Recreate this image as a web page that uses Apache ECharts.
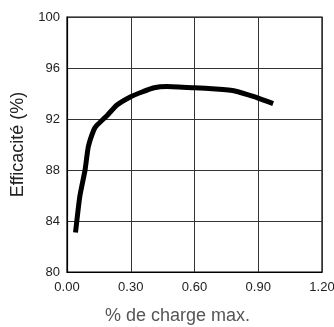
<!DOCTYPE html>
<html>
<head>
<meta charset="utf-8">
<script src="https://cdn.jsdelivr.net/npm/echarts@6/dist/echarts.min.js"></script>
<style>
  html, body { margin: 0; padding: 0; background: #fff; }
  #chart { width: 334px; height: 327px; }
</style>
</head>
<body>
<div id="chart"></div>
<script>
// Efficiency curve versus load fraction
const loadFraction = [0.04, 0.06, 0.085, 0.10, 0.125, 0.14, 0.19, 0.235, 0.30, 0.35, 0.41, 0.47, 0.60, 0.70, 0.79, 0.88, 0.97];
const efficiency   = [83.1, 85.9, 88.0, 89.8, 91.1, 91.5, 92.3, 93.1, 93.75, 94.1, 94.45, 94.55, 94.45, 94.35, 94.2, 93.75, 93.2];

const xTicks = [0, 0.3, 0.6, 0.9, 1.2];
const yTicks = [80, 84, 88, 92, 96, 100];

const FONT = '"Liberation Sans", Arial, Helvetica, sans-serif';

const chart = echarts.init(document.getElementById('chart'), null, { renderer: 'canvas' });

chart.setOption({
  animation: false,
  backgroundColor: '#fff',
  grid: {
    left: 67, top: 17, right: 12, bottom: 55,
    containLabel: false,
    outerBoundsMode: 'none',
    show: true, borderColor: '#000', borderWidth: 1.2, backgroundColor: 'transparent'
  },
  xAxis: {
    type: 'value',
    min: xTicks[0], max: xTicks[xTicks.length - 1], interval: 0.3,
    axisLine: { show: true, lineStyle: { color: '#000', width: 1.2 } },
    axisTick: { show: false },
    splitLine: { show: true, lineStyle: { color: '#333', width: 1 } },
    axisLabel: {
      color: '#222', fontFamily: FONT, fontSize: 13, margin: 9,
      formatter: v => v.toFixed(2)
    }
  },
  yAxis: {
    type: 'value',
    min: yTicks[0], max: yTicks[yTicks.length - 1], interval: 4,
    axisLine: { show: true, lineStyle: { color: '#000', width: 1.2 } },
    axisTick: { show: false },
    splitLine: { show: true, lineStyle: { color: '#333', width: 1 } },
    axisLabel: { color: '#222', fontFamily: FONT, fontSize: 13, margin: 7 },
    name: 'Efficacité (%)',
    nameLocation: 'middle',
    nameGap: 33,
    nameTextStyle: { color: '#222', fontFamily: FONT, fontSize: 18 }
  },
  graphic: [{
    type: 'text',
    left: 105, top: 307,
    style: { text: '% de charge max.', fill: '#555', font: '18px ' + FONT }
  }],
  series: [{
    type: 'line',
    data: loadFraction.map((x, i) => [x, efficiency[i]]),
    showSymbol: false,
    smooth: 0.15,
    lineStyle: { color: '#000', width: 5, cap: 'butt', join: 'round' }
  }]
});
</script>
</body>
</html>
